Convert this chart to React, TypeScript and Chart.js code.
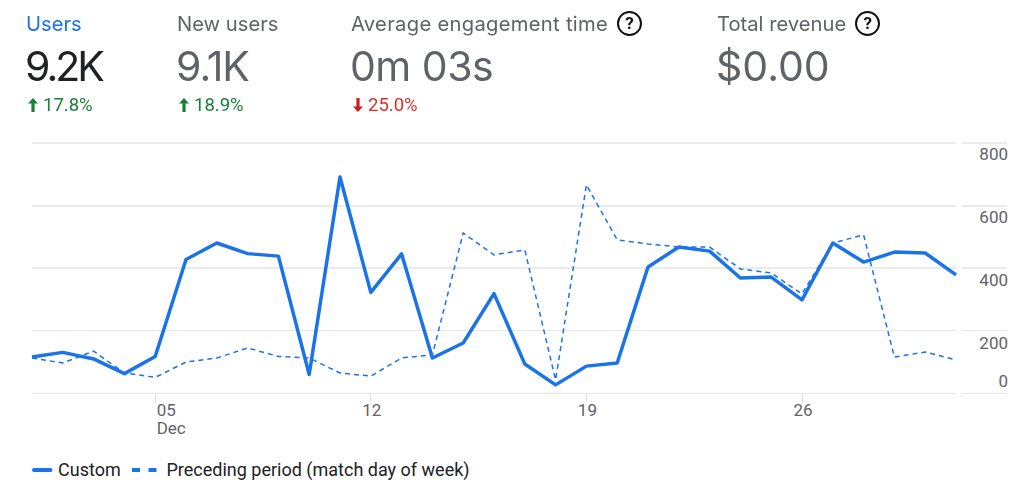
import React, { useEffect, useRef } from "react";
import { Chart, registerables } from "chart.js";

Chart.register(...registerables);

const days = ["01","02","03","04","05","06","07","08","09","10","11","12","13","14","15","16","17","18","19","20","21","22","23","24","25","26","27","28","29","30","31"];
const custom = [115,130,109,62,117,427,480,446,438,59,691,322,445,112,160,318,93,26,86,96,403,467,454,368,371,298,480,419,451,448,378];
const preceding = [112,96,134,64,50,99,112,144,117,112,64,54,112,122,512,442,458,42,666,490,477,467,467,397,384,317,480,506,115,131,106];
const shownDays = ["05","12","19","26"];
const yLabelOffsets = [-10, 14, 14, 13, 13];
const seriesNames = ["Custom", "Preceding period (match day of week)"];

const metrics = [
  { title: "Users", value: "9.2K", delta: "17.8%", up: true, left: 26, help: false, active: true, titleSpacing: 0, valueSpacing: -3 },
  { title: "New users", value: "9.1K", delta: "18.9%", up: true, left: 177, help: false, active: false, titleSpacing: 0, valueSpacing: -1 },
  { title: "Average engagement time", value: "0m 03s", delta: "25.0%", up: false, left: 351, help: true, active: false, titleSpacing: 0.3, valueSpacing: -0.5 },
  { title: "Total revenue", value: "$0.00", delta: "", up: true, left: 717, help: true, active: false, titleSpacing: 0, valueSpacing: 0 },
];

const BLUE = "#1a73e8";
const TICK = "#5f6368";
const TITLE_FONT = "Inter, sans-serif";

const labelPlugin = {
  id: "gaLabels",
  beforeDraw(chart: any) {
    const { ctx, width, height } = chart;
    ctx.save();
    ctx.fillStyle = "#ffffff";
    ctx.fillRect(0, 0, width, height);
    ctx.restore();
  },
  afterDraw(chart: any) {
    const { ctx } = chart;
    const y = chart.scales.y;
    const x = chart.scales.x;
    ctx.save();
    ctx.font = "17px Roboto";
    ctx.fillStyle = TICK;
    ctx.textBaseline = "middle";
    ctx.textAlign = "right";
    y.ticks.forEach((t: any, i: number) => {
      ctx.fillText(t.label, 1008, y.getPixelForTick(i) + yLabelOffsets[i]);
    });
    x.ticks.forEach((t: any, i: number) => {
      const px = x.getPixelForTick(i);
      if (i === 0) {
        ctx.textAlign = "left";
        ctx.fillText(t.label, px + 1.5, 412);
        ctx.fillText("Dec", px + 1.5, 430);
      } else {
        ctx.textAlign = "center";
        ctx.fillText(t.label, px + 1, 412);
      }
    });
    // legend, built from the dataset labels
    const ly = 471;
    const sets = chart.data.datasets;
    ctx.font = "18px Roboto";
    ctx.textAlign = "left";
    ctx.fillStyle = "#202124";
    ctx.strokeStyle = BLUE;
    ctx.lineWidth = 4;
    ctx.setLineDash([]);
    ctx.lineCap = "round";
    ctx.beginPath();
    ctx.moveTo(34, ly - 1);
    ctx.lineTo(50.5, ly - 1);
    ctx.stroke();
    ctx.fillText(sets[0].label, 58, ly);
    ctx.lineCap = "butt";
    ctx.setLineDash([8, 8.5]);
    ctx.beginPath();
    ctx.moveTo(132, ly - 1);
    ctx.lineTo(157, ly - 1);
    ctx.stroke();
    ctx.setLineDash([]);
    ctx.fillText(sets[1].label, 166.5, ly);
    ctx.restore();
  },
};

function Arrow({ up, color }: { up: boolean; color: string }) {
  return (
    <svg width="12" height="14" viewBox="0 0 12 14" style={{ position: "absolute", left: 0, top: 4 }}>
      <path
        d={up ? "M6 0 L11 5.5 L7.6 5.5 L7.6 14 L4.4 14 L4.4 5.5 L1 5.5 Z" : "M6 14 L11 8.5 L7.6 8.5 L7.6 0 L4.4 0 L4.4 8.5 L1 8.5 Z"}
        fill={color}
      />
    </svg>
  );
}

function Help() {
  return (
    <span style={{ display: "inline-block", position: "relative", top: -2, width: 25, height: 25, border: "2.5px solid #111", borderRadius: "50%", boxSizing: "border-box", textAlign: "center", fontFamily: "Roboto", fontWeight: 700, fontSize: 17, lineHeight: "20px", color: "#111", marginLeft: 9, verticalAlign: "middle" }}>?</span>
  );
}

export default function App() {
  const ref = useRef<HTMLCanvasElement>(null);
  useEffect(() => {
    const canvas = ref.current!;
    const ctx = canvas.getContext("2d", { alpha: false })!;
    const chart = new Chart(ctx as any, {
      type: "line",
      data: {
        labels: days,
        datasets: [
          { label: seriesNames[0], data: custom, borderColor: BLUE, borderWidth: 3.5, borderJoinStyle: "round", pointRadius: 0, tension: 0, clip: false as any, order: 0 },
          { label: seriesNames[1], data: preceding, borderColor: BLUE, borderWidth: 1.5, borderDash: [5, 4], pointRadius: 0, tension: 0, clip: false as any, order: 1 },
        ],
      },
      options: {
        animation: false,
        responsive: false,
        layout: { padding: { left: 32, right: 0, top: 143, bottom: 0 } },
        scales: {
          x: {
            type: "category",
            offset: false,
            border: { display: false },
            grid: { drawOnChartArea: false, tickLength: 9, tickColor: "#dfdfdf", tickWidth: 1 },
            ticks: { display: false, autoSkip: false },
            afterBuildTicks: (s: any) => { s.ticks = s.ticks.filter((t: any) => shownDays.includes(days[t.value])); },
            afterFit: (s: any) => { s.height = 105; },
          },
          y: {
            position: "right",
            min: 0,
            max: 800,
            border: { display: false },
            grid: {
              color: (c: any) => (c.tick && c.tick.value >= 400 ? "#ebebeb" : "#e6e6e6"),
              lineWidth: (c: any) => (c.tick && c.tick.value >= 400 ? 2 : 1),
              tickColor: (c: any) => (c.tick && c.tick.value >= 400 ? "#ebebeb" : "#e6e6e6"),
              tickLength: 51,
              tickBorderDash: [0, 6, 45, 1000],
            },
            ticks: { display: false, stepSize: 200 },
            afterFit: (s: any) => { s.width = 74; },
          },
        },
        plugins: {
          tooltip: { enabled: false },
          legend: { display: false },
        },
      } as any,
      plugins: [labelPlugin],
    });
    return () => chart.destroy();
  }, []);

  return (
    <div style={{ position: "absolute", left: 0, top: 0, width: 1030, height: 498, background: "#fff", overflow: "hidden" }}>
      <canvas ref={ref} width={1030} height={498} style={{ position: "absolute", left: 0, top: 0, display: "block" }} />
      {metrics.map((m) => (
        <div key={m.title} style={{ position: "absolute", left: m.left, top: 0 }}>
          <div style={{ position: "absolute", top: 10, whiteSpace: "nowrap", fontFamily: TITLE_FONT, fontSize: 20.2, letterSpacing: m.titleSpacing, lineHeight: "28px", color: m.active ? BLUE : TICK }}>
            {m.title}
            {m.help && <Help />}
          </div>
          <div style={{ position: "absolute", top: 40, left: -1, whiteSpace: "nowrap", fontFamily: TITLE_FONT, fontSize: 41, letterSpacing: m.valueSpacing, lineHeight: "52px", color: m.active ? "#202124" : TICK }}>{m.value}</div>
          {m.delta && (
            <div style={{ position: "absolute", top: 94, left: 1, height: 22, whiteSpace: "nowrap", paddingLeft: 16, fontFamily: "Roboto", fontSize: 18.5, lineHeight: "22px", color: m.up ? "#188038" : "#d93025" }}>
              <Arrow up={m.up} color={m.up ? "#188038" : "#c5221f"} />
              {m.delta}
            </div>
          )}
        </div>
      ))}
    </div>
  );
}
